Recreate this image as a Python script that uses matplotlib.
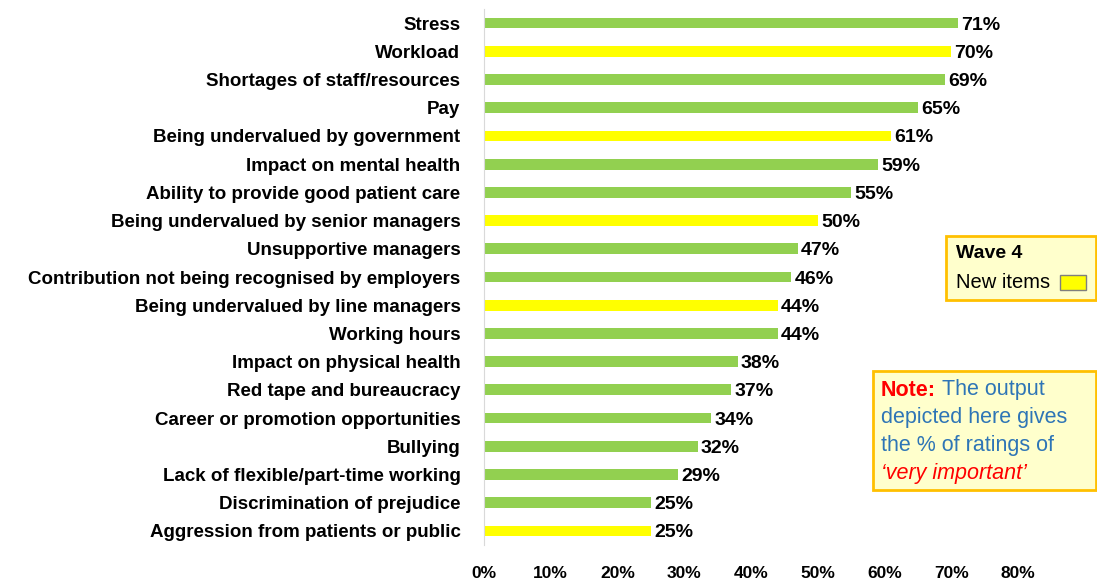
import matplotlib
matplotlib.use("Agg")
import matplotlib.pyplot as plt
from matplotlib.patches import Rectangle

# Kategorien von oben nach unten
categories = [
    "Stress", "Workload", "Shortages of staff/resources", "Pay",
    "Being undervalued by government", "Impact on mental health",
    "Ability to provide good patient care", "Being undervalued by senior managers",
    "Unsupportive managers", "Contribution not being recognised by employers",
    "Being undervalued by line managers", "Working hours",
    "Impact on physical health", "Red tape and bureaucracy",
    "Career or promotion opportunities", "Bullying",
    "Lack of flexible/part-time working", "Discrimination of prejudice",
    "Aggression from patients or public",
]
values = [71, 70, 69, 65, 61, 59, 55, 50, 47, 46, 44, 44, 38, 37, 34, 32, 29, 25, 25]
new_item = [False, True, False, False, True, False, False, True, False, False,
            True, False, False, False, False, False, False, False, True]
xticks = [0, 10, 20, 30, 40, 50, 60, 70, 80]

GREEN = "#92D050"
YELLOW = "#FFFF00"
W, H = 1097, 580

plt.rcParams['font.family'] = ['Liberation Sans', 'DejaVu Sans']

fig = plt.figure(figsize=(W / 100, H / 100), dpi=100)
ax = fig.add_axes([484 / W, 35 / H, (1018 - 484) / W, (545 - 9) / H])

ypos = list(range(len(categories)))
colors = [YELLOW if n else GREEN for n in new_item]
ax.barh(ypos, values, height=0.38, color=colors)
ax.set_ylim(len(categories) - 0.5, -0.5)
ax.set_xlim(0, 80)

for y, v in zip(ypos, values):
    ax.text(v + 0.5, y, f"{v}%", va="center_baseline", ha="left", fontsize=14, fontweight="bold")

ax.set_yticks(ypos)
ax.set_yticklabels(categories, fontsize=13.5, fontweight="bold")
ax.set_xticks(xticks)
ax.set_xticklabels([f"{t}%" for t in xticks], fontsize=12.5, fontweight="bold")
ax.tick_params(axis="y", length=0, pad=17)
ax.tick_params(axis="x", length=0, pad=15)
for s in ["top", "right", "bottom"]:
    ax.spines[s].set_visible(False)
ax.spines["left"].set_color("#d9d9d9")


def fx(x):
    return x / W


def fy(y):
    return 1 - y / H


# Legende
fig.patches.append(Rectangle((fx(946), fy(300)), fx(1096 - 946), (300 - 236) / H,
                             transform=fig.transFigure, facecolor="#FFFFCC",
                             edgecolor="#FFC000", linewidth=2))
fig.text(fx(956), fy(254), "Wave 4", fontsize=14, fontweight="bold", va="center")
fig.text(fx(956), fy(283), "New items", fontsize=14.5, va="center")
fig.patches.append(Rectangle((fx(1060), fy(290)), fx(26), 15 / H,
                             transform=fig.transFigure, facecolor=YELLOW,
                             edgecolor="#7f7f7f", linewidth=1))

# Hinweis-Box
fig.patches.append(Rectangle((fx(873), fy(490)), fx(1096 - 873), (490 - 371) / H,
                             transform=fig.transFigure, facecolor="#FFFFCC",
                             edgecolor="#FFC000", linewidth=2))
BLUE = "#2E75B6"
RED = "#FF0000"
fs = 15.5
fig.canvas.draw()
r = fig.canvas.get_renderer()
t1 = fig.text(fx(881), fy(390), "Note:", fontsize=fs, fontweight="bold", color=RED, va="center")
bb = t1.get_window_extent(r)
fig.text(bb.x1 / W + fx(6), fy(390), "The output", fontsize=fs, color=BLUE, va="center")
fig.text(fx(881), fy(418), "depicted here gives", fontsize=fs, color=BLUE, va="center")
fig.text(fx(881), fy(446), "the % of ratings of", fontsize=fs, color=BLUE, va="center")
fig.text(fx(881), fy(474), "\u2018very important\u2019", fontsize=fs, color=RED,
         style="italic", va="center")

fig.savefig("out.png", dpi=100)
